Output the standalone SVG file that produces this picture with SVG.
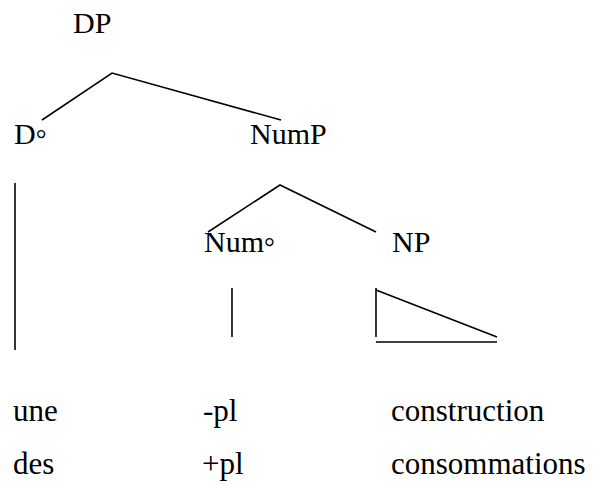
<svg xmlns="http://www.w3.org/2000/svg" width="593" height="484" viewBox="0 0 593 484">
<style>
text{font-family:"Liberation Serif","Times New Roman",serif;font-size:30px;fill:#000}
.w{font-size:31px}
.c line,.c polyline{stroke:#000;stroke-width:1.6;fill:none}
.deg{font-size:27px}
</style>
<rect width="593" height="484" fill="#fff"/>
<g id="n-DP"><text x="73" y="33">DP</text></g>
<g id="n-D"><text x="14" y="144">D<tspan class="deg" dy="4">°</tspan></text></g>
<g id="n-NumP"><text x="250" y="144">NumP</text></g>
<g id="n-Num"><text x="204" y="252">Num<tspan class="deg" dy="4">°</tspan></text></g>
<g id="n-NP"><text x="392" y="252">NP</text></g>
<g id="n-une"><text class="w" x="13" y="421">une</text></g>
<g id="n-mpl"><text class="w" x="203" y="421">-pl</text></g>
<g id="n-construction"><text class="w" x="391" y="421">construction</text></g>
<g id="n-des"><text class="w" x="13" y="474">des</text></g>
<g id="n-ppl"><text class="w" x="202" y="474">+pl</text></g>
<g id="n-consommations"><text class="w" x="391" y="474">consommations</text></g>
<g class="c" id="connectors">
<polyline points="42,120 112,73 281,120"/>
<polyline points="208,232 280,185 376,232"/>
<line x1="15" y1="183" x2="15" y2="350"/>
<line x1="232" y1="288" x2="232" y2="337"/>
<line x1="376" y1="288" x2="376" y2="337"/>
<line x1="376" y1="290" x2="497" y2="337"/>
<line x1="376" y1="342" x2="497" y2="342"/>
</g>
</svg>
